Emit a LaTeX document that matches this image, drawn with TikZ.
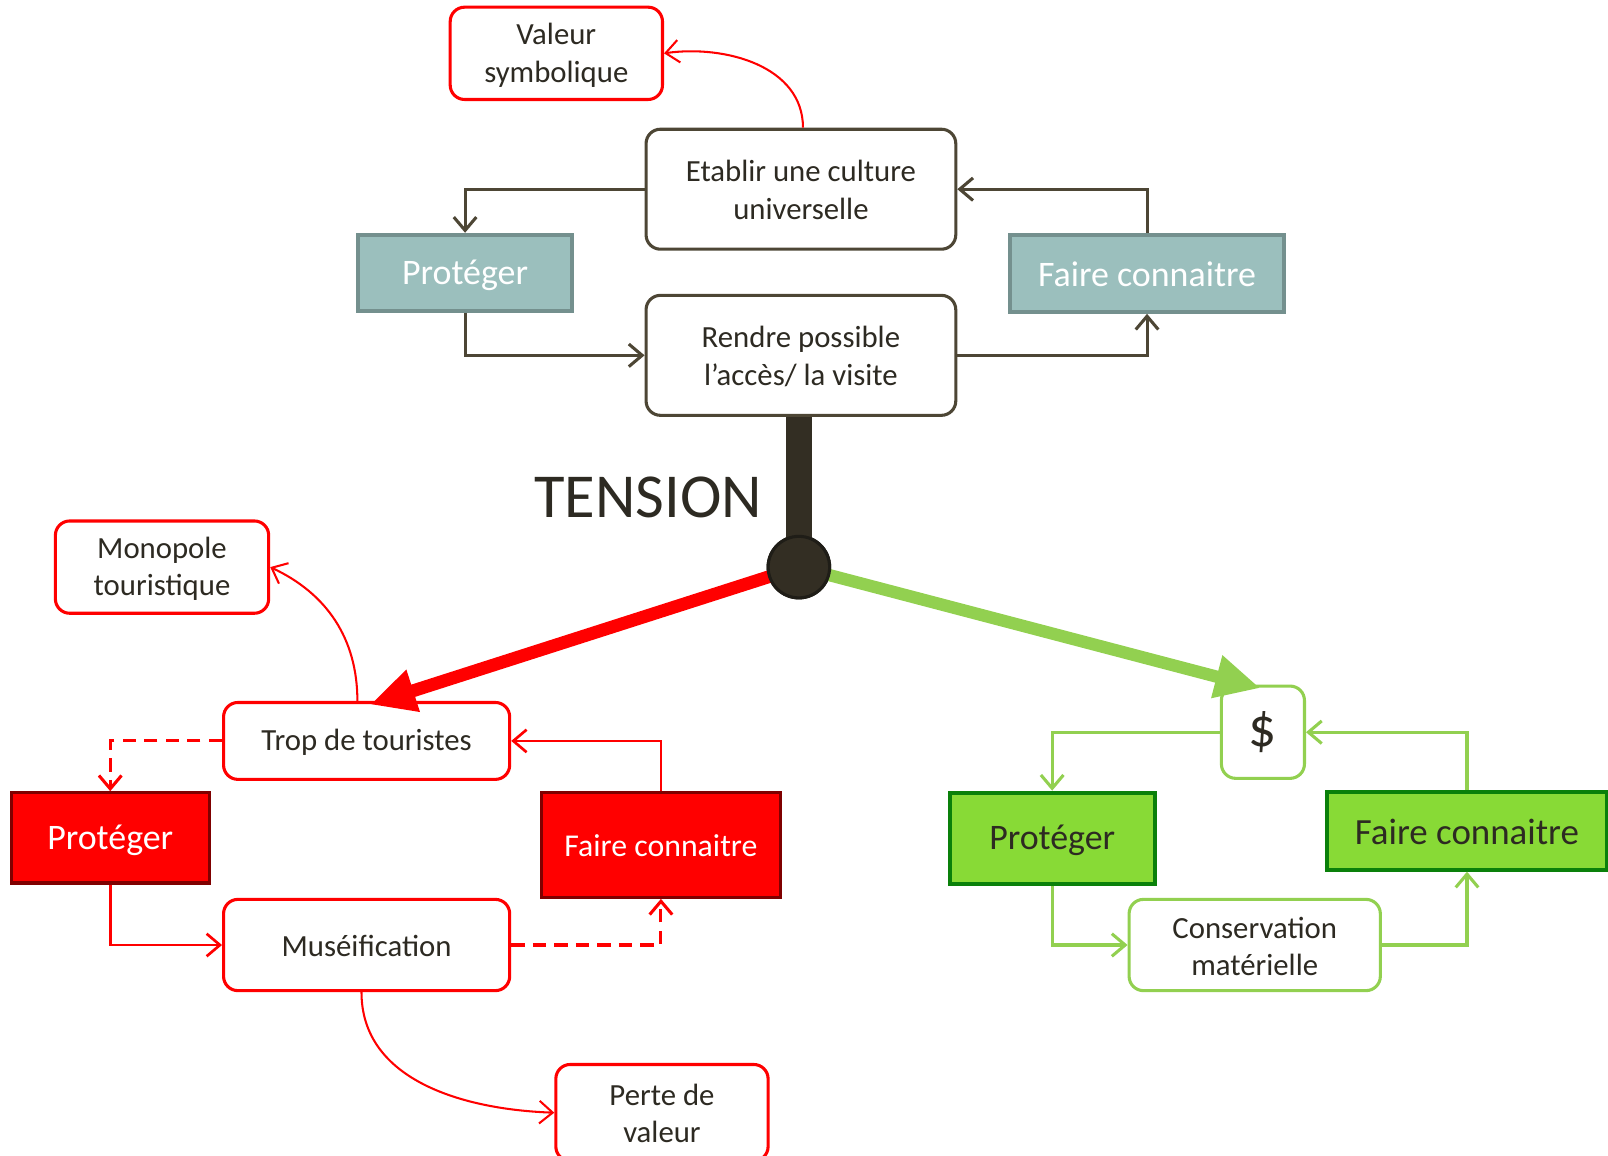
\documentclass[tikz,border=0pt]{standalone}
\usepackage{fontspec}
\setmainfont{Carlito}
\usetikzlibrary{arrows.meta}
\definecolor{ink}{HTML}{2D2A22}
\definecolor{brownline}{HTML}{4D4635}
\definecolor{tealfill}{HTML}{9BBFBD}
\definecolor{tealdraw}{HTML}{74908E}
\definecolor{redmain}{HTML}{FF0000}
\definecolor{reddark}{HTML}{7F0000}
\definecolor{greenline}{HTML}{92D050}
\definecolor{greenfill}{HTML}{88DA36}
\definecolor{greendark}{HTML}{0A800A}
\definecolor{hubfill}{HTML}{332E23}
\definecolor{hubdraw}{HTML}{1F1D17}
\newcommand\mystrutx{\rule[-0.05em]{0pt}{0.85em}}
\begin{document}
\begin{tikzpicture}[x=1pt,y=-1pt,
  txt/.style={font=\fontsize{30}{37}\selectfont},
  wbox/.style={draw, rounded corners=14pt, line width=3pt, fill=white, text=ink,
    align=center, inner sep=0pt, txt},
  brownbox/.style={wbox, draw=brownline},
  redwbox/.style={wbox, draw=redmain},
  greenwbox/.style={wbox, draw=greenline},
  tealbox/.style={draw=tealdraw, fill=tealfill, line width=4pt, text=white,
    inner sep=0pt, font=\fontsize{35}{42}\selectfont},
  redbox/.style={draw=reddark, fill=redmain, line width=3pt, text=white,
    inner sep=0pt, font=\fontsize{35}{42}\selectfont},
  greenbox/.style={draw=greendark, fill=greenfill, line width=4pt, text=ink,
    inner sep=0pt, font=\fontsize{35}{42}\selectfont},
  tipo/.style={-{Straight Barb[length=13pt,width=22pt]}},
  brownarr/.style={tipo, draw=brownline, line width=3pt},
  redarr/.style={tipo, draw=redmain, line width=2.6pt},
  redcurve/.style={tipo, draw=redmain, line width=2pt},
  reddash/.style={redarr, line width=3pt, dash pattern=on 13pt off 8pt},
  greenarr/.style={tipo, draw=greenline, line width=3pt},
]
\useasboundingbox (0,0) rectangle (1568,1126.3);

% ---- top cluster ----
\node[redwbox, minimum width=207pt, minimum height=90pt] (val) at (542.5,52) {\mystrutx Valeur\\\mystrutx symbolique};
\node[brownbox, minimum width=302pt, minimum height=117pt] (etab) at (781,184.5) {\mystrutx Etablir une culture\\\mystrutx universelle};
\node[brownbox, minimum width=302pt, minimum height=117pt] (rendre) at (781,346.5) {\mystrutx Rendre possible\\\mystrutx l’accès/ la visite};
\node[tealbox, minimum width=209pt, minimum height=74pt] (protT) at (453.5,266) {\mystrutx Protéger};
\node[tealbox, minimum width=267pt, minimum height=75pt] (faireT) at (1118.5,266.5) {\mystrutx Faire connaitre};

\draw[brownarr] (etab.west) -| (protT.north);
\draw[brownarr] (protT.south) |- (rendre.west);
\draw[brownarr] (rendre.east) -| (faireT.south);
\draw[brownarr] (faireT.north) |- (etab.east);
\draw[redcurve] ([xshift=2pt]etab.north) to[out=90,in=8] (val.east);

% ---- hub ----
\node[circle, draw=hubdraw, fill=hubfill, line width=3pt, minimum size=60pt, inner sep=0pt] (hub) at (779,553) {};
\node[text=ink, font=\fontsize{61}{70}\selectfont, inner sep=0pt] (tension) at (632,485) {TENSION};

% ---- red cluster ----
\node[redwbox, minimum width=208pt, minimum height=90pt, font=\fontsize{30}{36}\selectfont] (mono) at (158,553) {\mystrutx Monopole\\\mystrutx touristique};
\node[redwbox, minimum width=279pt, minimum height=75pt] (trop) at (357.5,722.5) {\mystrutx Trop de touristes};
\node[redbox, minimum width=193pt, minimum height=88pt] (protR) at (107.5,817) {\mystrutx Protéger};
\node[redbox, minimum width=233pt, minimum height=102pt, font=\fontsize{31}{37}\selectfont] (faireR) at (644.5,824) {\mystrutx Faire connaitre};
\node[redwbox, minimum width=279pt, minimum height=89pt] (muse) at (357.5,921.5) {\mystrutx Muséification};
\node[redwbox, minimum width=207pt, minimum height=94pt, font=\fontsize{30}{36}\selectfont] (perte) at (645.5,1085) {\mystrutx Perte de\\\mystrutx valeur};

\draw[reddash] (trop.west) -| (protR.north);
\draw[redarr] (protR.south) |- (muse.west);
\draw[reddash] (muse.east) -| (faireR.south);
\draw[redarr] (faireR.north) |- (trop.east);
\draw[redcurve] ([xshift=-9pt]trop.north) to[out=90,in=-25] (mono.east);
\draw[redcurve] ([xshift=-5pt]muse.south) to[out=-90,in=178] (perte.west);

% ---- green cluster ----
\node[greenwbox, minimum width=81pt, minimum height=90pt, font=\fontsize{54}{60}\selectfont] (dollar) at (1231.5,714) {\raisebox{-3pt}{\$}};
\node[greenbox, minimum width=200pt, minimum height=89pt] (protG) at (1026,817.5) {\mystrutx Protéger};
\node[greenbox, minimum width=273pt, minimum height=76pt, font=\fontsize{36}{42}\selectfont] (faireG) at (1430.5,810) {\mystrutx Faire connaitre};
\node[greenwbox, minimum width=245pt, minimum height=89pt, font=\fontsize{30}{36}\selectfont] (cons) at (1223.5,921.5) {\mystrutx Conservation\\\mystrutx matérielle};

\draw[greenarr] (dollar.west) -| (protG.north);
\draw[greenarr] (protG.south) |- (cons.west);
\draw[greenarr] (cons.east) -| (faireG.south);
\draw[greenarr] (faireG.north) |- (dollar.east);

% ---- tension arms ----
\draw[line width=26pt, draw=hubfill] (hub.center) -- (hub.center |- rendre.south);
\draw[line width=12.5pt, draw=redmain, -{Triangle[length=44pt,width=40pt]}] (hub.center) -- (361,687);
\draw[line width=12pt, draw=greenline, -{Triangle[length=44pt,width=40pt]}] (hub.center) -- (1229,671);
\node[circle, draw=hubdraw, fill=hubfill, line width=3pt, minimum size=60pt, inner sep=0pt] at (hub) {};
\end{tikzpicture}
\end{document}
